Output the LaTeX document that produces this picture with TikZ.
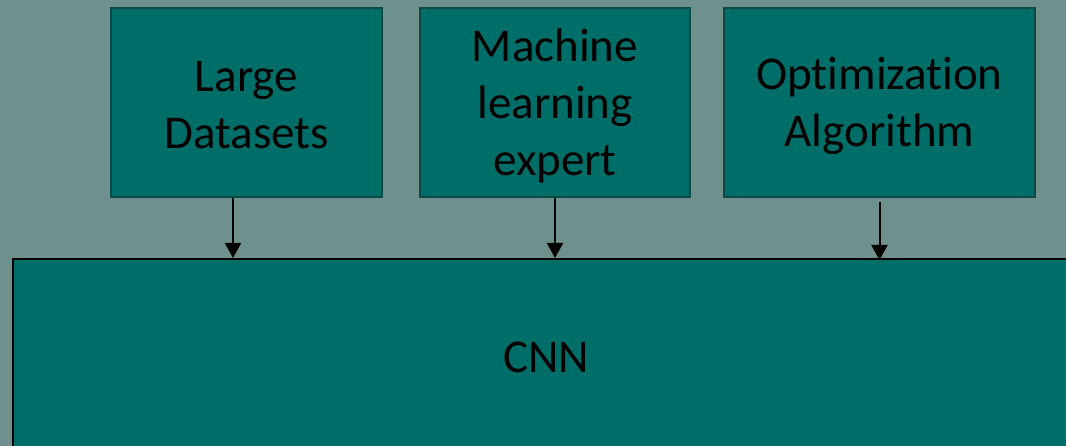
\documentclass[tikz,border=0pt]{standalone}
\usepackage{fontspec}
\setmainfont{Carlito}[Ligatures={NoCommon}]
\usetikzlibrary{arrows.meta}
\definecolor{bgteal}{HTML}{6E918D}
\definecolor{boxteal}{HTML}{006E68}
\definecolor{edgeteal}{HTML}{0B4A47}
\tikzset{
  inbox/.style={draw=edgeteal, line width=2pt, fill=boxteal,
    inner sep=0pt, minimum height=189pt},
  boxlabel/.style={align=center, inner sep=0pt,
    font=\fontsize{47}{57}\selectfont},
  mainbox/.style={draw=black, line width=2pt, fill=boxteal, align=center,
    inner sep=0pt, minimum width=1066pt, minimum height=196pt,
    font=\fontsize{47}{57}\selectfont},
  feed/.style={draw=black, line width=2pt, -{Triangle[length=15pt,width=16pt]}}
}
\begin{document}
\begin{tikzpicture}[x=1pt,y=-1pt]
  \useasboundingbox (0,0) rectangle (1066,446);
  \fill[bgteal] (0,0) rectangle (1066,446);
  \begin{scope}
    \clip (0,0) rectangle (1066,446);
    \node[mainbox] (cnn) at (546,357) {CNN};
  \end{scope}
  % input boxes with their labels
  \node[inbox, minimum width=271pt] (data) at (246.5,102.5) {};
  \node[inbox, minimum width=270pt] (expert) at (555,102.5) {};
  \node[inbox, minimum width=311pt] (optim) at (879.5,102.5) {};
  \node[boxlabel] (datatext) at ([yshift=-3pt]data.center) {Large\\Datasets};
  \node[boxlabel] (experttext) at ([yshift=-3pt]expert.center) {Machine\\learning\\expert};
  \node[boxlabel] (optimtext) at ([yshift=-3pt]optim.center) {Optimization\\Algorithm};
  % connectors into the network box
  \coordinate (optimout) at ([yshift=-4pt]optim.south);
  \draw[feed] (data.south -| 233,0) -- (cnn.north -| 233,0);
  \draw[feed] (expert.south) -- (cnn.north -| expert.south);
  \draw[feed] (optimout) -- ([yshift=-2pt]cnn.north -| optimout);
\end{tikzpicture}
\end{document}
